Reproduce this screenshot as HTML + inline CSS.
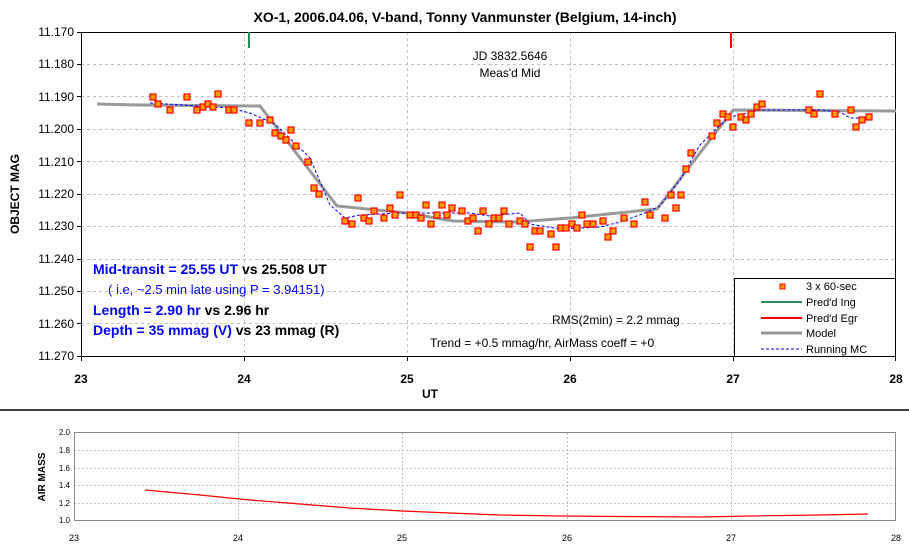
<!DOCTYPE html><html><head><style>body{margin:0;background:#fff}svg{display:block}text{font-family:"Liberation Sans",Arial,sans-serif}</style></head><body>
<svg width="909" height="550" viewBox="0 0 909 550" xmlns="http://www.w3.org/2000/svg">
<text x="465" y="22" font-size="14" font-weight="bold" text-anchor="middle">XO-1, 2006.04.06, V-band, Tonny Vanmunster (Belgium, 14-inch)</text>
<g stroke="#c0c0c0" stroke-dasharray="3,3" stroke-width="1">
<path d="M81 64.5H896M81 96.5H896M81 129.5H896M81 161.5H896M81 194.5H896M81 226.5H896M81 259.5H896M81 291.5H896M81 323.5H896"/>
<path d="M244.5 32V356M407.5 32V356M570.5 32V356M733.5 32V356"/>
</g>
<rect x="81.5" y="32.5" width="814" height="324" fill="none" stroke="#000"/>
<g font-size="12" text-anchor="end">
<text x="74" y="36">11.170</text><text x="74" y="68">11.180</text><text x="74" y="101">11.190</text><text x="74" y="133">11.200</text><text x="74" y="166">11.210</text><text x="74" y="198">11.220</text><text x="74" y="230">11.230</text><text x="74" y="263">11.240</text><text x="74" y="295">11.250</text><text x="74" y="328">11.260</text><text x="74" y="360">11.270</text>
</g>
<g stroke="#000"><path d="M77 32.5H81M77 64.5H81M77 96.5H81M77 129.5H81M77 161.5H81M77 194.5H81M77 226.5H81M77 259.5H81M77 291.5H81M77 323.5H81M77 356.5H81M81.5 356V361M244.5 356V361M407.5 356V361M570.5 356V361M733.5 356V361M895.5 356V361"/></g>
<g font-size="12" font-weight="bold" text-anchor="middle">
<text x="81" y="383">23</text><text x="244" y="383">24</text><text x="407" y="383">25</text><text x="570" y="383">26</text><text x="733" y="383">27</text><text x="896" y="383">28</text>
<text x="430" y="398">UT</text>
<text transform="translate(19,194) rotate(-90)">OBJECT MAG</text>
</g>
<line x1="249" y1="32" x2="249" y2="48" stroke="#2e8b57" stroke-width="2"/>
<line x1="731" y1="32" x2="731" y2="48" stroke="#f00" stroke-width="2"/>
<text x="510" y="60" font-size="12" text-anchor="middle">JD 3832.5646</text>
<text x="510" y="77" font-size="12" text-anchor="middle">Meas'd Mid</text>
<polyline points="97,104 139,105 260,106 337,206 407,213 453,221 510,222 517,222 570,218 657,209 733,110 896,111" fill="none" stroke="#999" stroke-width="3"/>
<polyline points="150,103 230,108 250,113 275,124 310,158 330,205 345,218 360,215 400,213 450,213 470,213 490,216 500,215 520,213 530,224 560,229 600,227 620,222 645,213 660,206 680,180 700,145 718,127 730,117 760,110 820,110 840,112 850,118 870,118" fill="none" stroke="#00f" stroke-width="1" stroke-dasharray="3,2"/>
<g fill="#f90" stroke="#f00" stroke-width="1.2" transform="translate(-3,-3)">
<rect x="153" y="97" width="6" height="6"/><rect x="158" y="104" width="6" height="6"/><rect x="170" y="110" width="6" height="6"/><rect x="187" y="97" width="6" height="6"/><rect x="197" y="110" width="6" height="6"/><rect x="203" y="107" width="6" height="6"/><rect x="208" y="104" width="6" height="6"/><rect x="213" y="107" width="6" height="6"/><rect x="218" y="94" width="6" height="6"/><rect x="229" y="110" width="6" height="6"/><rect x="234" y="110" width="6" height="6"/><rect x="249" y="123" width="6" height="6"/><rect x="260" y="123" width="6" height="6"/><rect x="270" y="120" width="6" height="6"/><rect x="275" y="133" width="6" height="6"/><rect x="281" y="136" width="6" height="6"/><rect x="286" y="140" width="6" height="6"/><rect x="291" y="130" width="6" height="6"/><rect x="296" y="146" width="6" height="6"/><rect x="308" y="162" width="6" height="6"/><rect x="314" y="188" width="6" height="6"/><rect x="319" y="194" width="6" height="6"/><rect x="345" y="221" width="6" height="6"/><rect x="352" y="224" width="6" height="6"/><rect x="358" y="198" width="6" height="6"/><rect x="364" y="218" width="6" height="6"/><rect x="369" y="221" width="6" height="6"/><rect x="374" y="211" width="6" height="6"/><rect x="384" y="218" width="6" height="6"/><rect x="390" y="208" width="6" height="6"/><rect x="395" y="215" width="6" height="6"/><rect x="400" y="195" width="6" height="6"/><rect x="410" y="215" width="6" height="6"/><rect x="416" y="215" width="6" height="6"/><rect x="421" y="218" width="6" height="6"/><rect x="426" y="205" width="6" height="6"/><rect x="431" y="224" width="6" height="6"/><rect x="437" y="215" width="6" height="6"/><rect x="442" y="205" width="6" height="6"/><rect x="447" y="215" width="6" height="6"/><rect x="452" y="208" width="6" height="6"/><rect x="462" y="211" width="6" height="6"/><rect x="468" y="221" width="6" height="6"/><rect x="473" y="218" width="6" height="6"/><rect x="478" y="231" width="6" height="6"/><rect x="483" y="211" width="6" height="6"/><rect x="489" y="224" width="6" height="6"/><rect x="494" y="218" width="6" height="6"/><rect x="499" y="218" width="6" height="6"/><rect x="504" y="211" width="6" height="6"/><rect x="509" y="224" width="6" height="6"/><rect x="520" y="221" width="6" height="6"/><rect x="525" y="224" width="6" height="6"/><rect x="530" y="247" width="6" height="6"/><rect x="535" y="231" width="6" height="6"/><rect x="540" y="231" width="6" height="6"/><rect x="551" y="234" width="6" height="6"/><rect x="556" y="247" width="6" height="6"/><rect x="561" y="228" width="6" height="6"/><rect x="566" y="228" width="6" height="6"/><rect x="572" y="224" width="6" height="6"/><rect x="577" y="228" width="6" height="6"/><rect x="582" y="215" width="6" height="6"/><rect x="587" y="224" width="6" height="6"/><rect x="593" y="224" width="6" height="6"/><rect x="603" y="221" width="6" height="6"/><rect x="608" y="237" width="6" height="6"/><rect x="613" y="231" width="6" height="6"/><rect x="624" y="218" width="6" height="6"/><rect x="634" y="224" width="6" height="6"/><rect x="645" y="202" width="6" height="6"/><rect x="650" y="215" width="6" height="6"/><rect x="665" y="218" width="6" height="6"/><rect x="671" y="195" width="6" height="6"/><rect x="676" y="208" width="6" height="6"/><rect x="681" y="195" width="6" height="6"/><rect x="686" y="169" width="6" height="6"/><rect x="691" y="153" width="6" height="6"/><rect x="712" y="136" width="6" height="6"/><rect x="717" y="123" width="6" height="6"/><rect x="723" y="114" width="6" height="6"/><rect x="728" y="117" width="6" height="6"/><rect x="733" y="127" width="6" height="6"/><rect x="741" y="117" width="6" height="6"/><rect x="746" y="120" width="6" height="6"/><rect x="751" y="114" width="6" height="6"/><rect x="757" y="107" width="6" height="6"/><rect x="762" y="104" width="6" height="6"/><rect x="809" y="110" width="6" height="6"/><rect x="814" y="114" width="6" height="6"/><rect x="820" y="94" width="6" height="6"/><rect x="835" y="114" width="6" height="6"/><rect x="851" y="110" width="6" height="6"/><rect x="856" y="127" width="6" height="6"/><rect x="862" y="120" width="6" height="6"/><rect x="869" y="117" width="6" height="6"/>
</g>
<g font-size="14" font-weight="bold">
<text x="93" y="274"><tspan fill="#00f">Mid-transit = 25.55 UT</tspan><tspan fill="#000">  vs 25.508 UT</tspan></text>
<text x="93" y="315"><tspan fill="#00f">Length = 2.90 hr</tspan><tspan fill="#000">  vs 2.96 hr</tspan></text>
<text x="93" y="335"><tspan fill="#00f">Depth = 35 mmag (V)</tspan><tspan fill="#000"> vs 23 mmag (R)</tspan></text>
</g>
<text x="108" y="294" font-size="13" fill="#00f">( i.e, ~2.5 min late using P = 3.94151)</text>
<text x="552" y="324" font-size="12">RMS(2min) = 2.2 mmag</text>
<text x="430" y="347" font-size="12">Trend = +0.5 mmag/hr, AirMass coeff = +0</text>
<rect x="734.5" y="278.5" width="161" height="78" fill="#fff" stroke="#000"/>
<rect x="780" y="284" width="5" height="5" fill="#f90" stroke="#f00"/>
<line x1="761" y1="302" x2="802" y2="302" stroke="#2e8b57" stroke-width="2"/>
<line x1="761" y1="318" x2="802" y2="318" stroke="#f00" stroke-width="2"/>
<line x1="761" y1="333" x2="802" y2="333" stroke="#999" stroke-width="3"/>
<line x1="761" y1="349" x2="802" y2="349" stroke="#00f" stroke-dasharray="3,2"/>
<g font-size="11"><text x="806" y="290">3 x 60-sec</text><text x="806" y="306">Pred'd Ing</text><text x="806" y="322">Pred'd Egr</text><text x="806" y="337">Model</text><text x="806" y="353">Running MC</text></g>
<line x1="0" y1="410" x2="909" y2="410" stroke="#000" stroke-width="1.5"/>
<g stroke="#c0c0c0" stroke-dasharray="2,2"><path d="M74 450.5H896M74 468.5H896M74 485.5H896M74 503.5H896M238.5 433V521M402.5 433V521M567.5 433V521M731.5 433V521"/></g>
<rect x="74.5" y="432.5" width="821" height="88" fill="none" stroke="#888"/>
<g font-size="8" text-anchor="end"><text x="70" y="435">2.0</text><text x="70" y="453">1.8</text><text x="70" y="471">1.6</text><text x="70" y="488">1.4</text><text x="70" y="506">1.2</text><text x="70" y="523">1.0</text></g>
<g font-size="9" text-anchor="middle"><text x="74" y="541">23</text><text x="238" y="541">24</text><text x="402" y="541">25</text><text x="567" y="541">26</text><text x="731" y="541">27</text><text x="896" y="541">28</text></g>
<text transform="translate(45,477) rotate(-90)" font-size="10" font-weight="bold" text-anchor="middle">AIR MASS</text>
<polyline points="145,490 200,495 250,500 300,504 350,508 402,511 450,513 500,515 560,516 620,516.5 700,517 750,516 820,515 868,514" fill="none" stroke="#f00" stroke-width="1.2"/>
</svg>
</body></html>
